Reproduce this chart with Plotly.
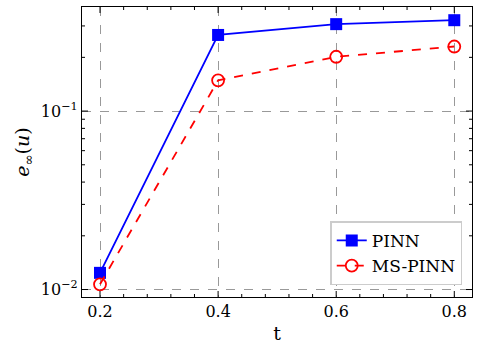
import plotly.graph_objects as go
import numpy as np

t = [0.2, 0.4, 0.6, 0.8]
pinn = [0.0124, 0.267, 0.307, 0.323]
ms_pinn = [0.0107, 0.1486, 0.2015, 0.230]
x_ticks = [0.2, 0.4, 0.6, 0.8]
x_ticklabels = ["0.2", "0.4", "0.6", "0.8"]
y_ticks = [0.01, 0.1]
y_ticklabels = ["10<sup>−2</sup>", "10<sup>−1</sup>"]
x_minor = [0.24, 0.28, 0.32, 0.36, 0.44, 0.48, 0.52, 0.56, 0.64, 0.68, 0.72, 0.76, 0.80]
y_minor = [0.02, 0.03, 0.04, 0.05, 0.06, 0.07, 0.08, 0.09, 0.2, 0.3]

font = "DejaVu Serif"
W, H = 479, 355
L, R, T, B = 82, 7, 7, 58
pw, ph = W - L - R, H - T - B

fig = go.Figure()
fig.add_trace(go.Scatter(x=t, y=pinn, mode="lines+markers", name="PINN",
                         line=dict(color="blue", width=1.8),
                         marker=dict(symbol="square", size=12, color="blue")))
fig.add_trace(go.Scatter(x=t, y=ms_pinn, mode="lines+markers", name="MS-PINN",
                         line=dict(color="red", width=1.8, dash="dash"),
                         marker=dict(symbol="circle-open", size=12, color="red",
                                     line=dict(width=1.8, color="red"))))

shapes = []
tick_line = dict(color="black", width=1)
for v, ln in [(v, 6) for v in x_ticks] + [(v, 3) for v in x_minor if v not in x_ticks]:
    d = ln / ph
    shapes.append(dict(type="line", xref="x", yref="y domain", x0=v, x1=v, y0=0, y1=d, line=tick_line))
    shapes.append(dict(type="line", xref="x", yref="y domain", x0=v, x1=v, y0=1 - d, y1=1, line=tick_line))
for v, ln in [(v, 6) for v in y_ticks] + [(v, 3) for v in y_minor]:
    d = ln / pw
    shapes.append(dict(type="line", xref="x domain", yref="y", x0=0, x1=d, y0=v, y1=v, line=tick_line))
    shapes.append(dict(type="line", xref="x domain", yref="y", x0=1 - d, x1=1, y0=v, y1=v, line=tick_line))

fig.update_layout(
    width=W, height=H,
    margin=dict(l=L, r=R, t=T, b=B),
    paper_bgcolor="white", plot_bgcolor="white",
    font=dict(family=font, size=16, color="black"),
    showlegend=True,
    shapes=shapes,
    legend=dict(x=0.975, y=0.04, xanchor="right", yanchor="bottom",
                bgcolor="white", bordercolor="#cccccc", borderwidth=1.5,
                font=dict(size=17, family=font)),
    xaxis=dict(range=[0.1695, 0.83], tickvals=x_ticks, ticktext=x_ticklabels,
               tickmode="array", ticks="", mirror=True,
               showline=True, linecolor="black", linewidth=1.2,
               showgrid=True, gridcolor="#999999", griddash="dash", gridwidth=1,
               zeroline=False, automargin=False,
               title=dict(text="t", standoff=6)),
    yaxis=dict(type="log", range=[np.log10(0.00908), np.log10(0.383)],
               tickvals=y_ticks, ticktext=y_ticklabels, tickmode="array",
               ticks="", mirror=True,
               showline=True, linecolor="black", linewidth=1.2,
               showgrid=True, gridcolor="#999999", griddash="dash", gridwidth=1,
               zeroline=False, automargin=False,
               title=dict(text="<i>e</i><sub>∞</sub>(<i>u</i>)", standoff=6)),
)

fig.write_html("out.html", post_script="document.body.style.margin='0';",
               config={"displayModeBar": False})
